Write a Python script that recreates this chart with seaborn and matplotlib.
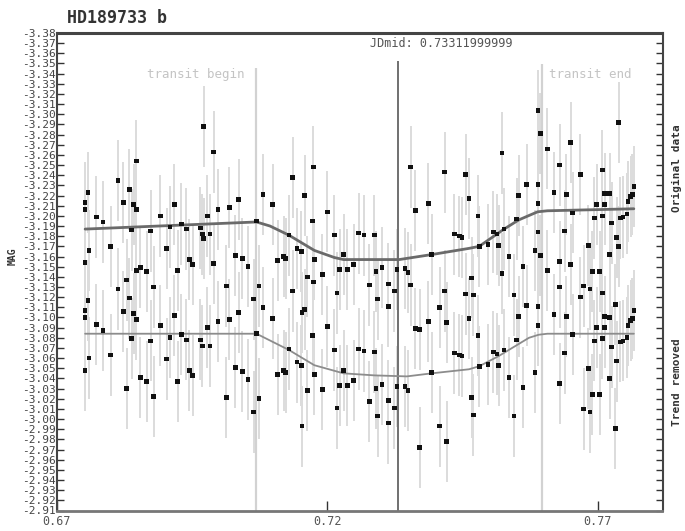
import numpy as np
import pandas as pd
import matplotlib
matplotlib.use('Agg')
import matplotlib.pyplot as plt
import seaborn as sns

TARGET = 'HD189733 b'
JD_MID = 0.73311999999
T_BEGIN = 0.7069
T_END = 0.7597
ERR = 0.04

jd = [0.6752, 0.6752, 0.6757, 0.6752, 0.6759, 0.6773, 0.6785, 0.6799, 0.6813, 0.6823,
      0.6829, 0.6834, 0.6838, 0.6842, 0.6847, 0.6847, 0.6854, 0.6866, 0.6873, 0.6879,
      0.6891, 0.6903, 0.6909, 0.6917, 0.6923, 0.6930, 0.6939, 0.6945, 0.6951, 0.6965,
      0.6971, 0.6969, 0.6978, 0.6983, 0.6990, 0.6998, 0.7013, 0.7019, 0.7030, 0.7036,
      0.7043, 0.7053, 0.7064, 0.7069, 0.7074, 0.7081, 0.7099, 0.7108, 0.7119, 0.7123,
      0.7129, 0.7136, 0.7144, 0.7152, 0.7153, 0.7158, 0.7163, 0.7173, 0.7174, 0.7176,
      0.7191, 0.7200, 0.7213, 0.7218, 0.7223, 0.7230, 0.7237, 0.7249, 0.7258, 0.7268,
      0.7278, 0.7287, 0.7290, 0.7293, 0.7301, 0.7313, 0.7313, 0.7324, 0.7329, 0.7344,
      0.7349, 0.7354, 0.7363, 0.7371, 0.7387, 0.7393, 0.7408, 0.7417, 0.7421, 0.7435,
      0.7444, 0.7449, 0.7456, 0.7462, 0.7467, 0.7470, 0.7479, 0.7481, 0.7497, 0.7507,
      0.7514, 0.7517, 0.7523, 0.7527, 0.7536, 0.7545, 0.7550, 0.7554, 0.7562, 0.7569,
      0.7584, 0.7590, 0.7590, 0.7590, 0.7594, 0.7607, 0.7619, 0.7630, 0.7630, 0.7639,
      0.7642, 0.7650, 0.7654, 0.7668, 0.7674, 0.7683, 0.7686, 0.7690, 0.7694, 0.7698,
      0.7704, 0.7709, 0.7709, 0.7713, 0.7713, 0.7722, 0.7722, 0.7726, 0.7733, 0.7735,
      0.7739, 0.7742, 0.7747, 0.7754, 0.7756, 0.7761, 0.7764, 0.7767]

mag_orig = [-3.213, -3.206, -3.223, -3.154, -3.166, -3.199, -3.194, -3.170, -3.235, -3.213,
            -3.137, -3.226, -3.186, -3.211, -3.206, -3.254, -3.149, -3.145, -3.185, -3.130,
            -3.200, -3.168, -3.189, -3.211, -3.146, -3.192, -3.187, -3.157, -3.152, -3.188,
            -3.288, -3.182, -3.200, -3.182, -3.263, -3.206, -3.131, -3.208, -3.161, -3.216,
            -3.158, -3.150, -3.118, -3.195, -3.131, -3.221, -3.211, -3.156, -3.160, -3.158,
            -3.181, -3.238, -3.168, -3.165, -3.105, -3.220, -3.140, -3.195, -3.248, -3.157,
            -3.142, -3.204, -3.181, -3.124, -3.147, -3.162, -3.147, -3.152, -3.183, -3.181,
            -3.132, -3.181, -3.145, -3.118, -3.149, -3.133, -3.111, -3.126, -3.147, -3.148,
            -3.144, -3.248, -3.205, -3.088, -3.212, -3.162, -3.110, -3.243, -3.095, -3.182,
            -3.180, -3.179, -3.241, -3.217, -3.139, -3.122, -3.200, -3.170, -3.172, -3.184,
            -3.182, -3.171, -3.262, -3.187, -3.160, -3.122, -3.197, -3.220, -3.150, -3.231,
            -3.166, -3.304, -3.231, -3.212, -3.281, -3.266, -3.223, -3.250, -3.155, -3.185,
            -3.221, -3.272, -3.203, -3.241, -3.131, -3.171, -3.128, -3.145, -3.198, -3.211,
            -3.145, -3.245, -3.200, -3.222, -3.211, -3.222, -3.162, -3.193, -3.113, -3.179,
            -3.292, -3.198, -3.199, -3.202, -3.214, -3.219, -3.221, -3.229]

mag_detr = [-3.107, -3.100, -3.117, -3.048, -3.060, -3.093, -3.087, -3.063, -3.128, -3.106,
            -3.030, -3.119, -3.079, -3.104, -3.098, -3.146, -3.041, -3.037, -3.077, -3.022,
            -3.092, -3.059, -3.080, -3.102, -3.037, -3.083, -3.078, -3.048, -3.043, -3.078,
            -3.178, -3.072, -3.090, -3.072, -3.153, -3.096, -3.021, -3.098, -3.051, -3.105,
            -3.047, -3.039, -3.007, -3.084, -3.020, -3.110, -3.099, -3.044, -3.048, -3.046,
            -3.069, -3.126, -3.056, -3.053, -2.993, -3.108, -3.028, -3.082, -3.135, -3.044,
            -3.029, -3.091, -3.068, -3.011, -3.033, -3.048, -3.033, -3.038, -3.069, -3.067,
            -3.017, -3.066, -3.030, -3.003, -3.034, -3.018, -2.996, -3.011, -3.032, -3.032,
            -3.028, -3.132, -3.089, -2.972, -3.096, -3.046, -2.993, -3.126, -2.978, -3.065,
            -3.063, -3.062, -3.123, -3.099, -3.021, -3.004, -3.082, -3.052, -3.054, -3.066,
            -3.064, -3.053, -3.143, -3.068, -3.041, -3.003, -3.078, -3.101, -3.031, -3.112,
            -3.046, -3.184, -3.111, -3.092, -3.161, -3.146, -3.103, -3.130, -3.035, -3.065,
            -3.101, -3.152, -3.083, -3.120, -3.010, -3.050, -3.007, -3.024, -3.077, -3.090,
            -3.024, -3.124, -3.079, -3.101, -3.090, -3.100, -3.040, -3.071, -2.991, -3.057,
            -3.170, -3.076, -3.077, -3.080, -3.092, -3.097, -3.099, -3.107]

# fitted transit model curves
model_jd = [0.6752, 0.7069, 0.7094, 0.7129, 0.7176, 0.7213, 0.7230, 0.7333,
            0.7394, 0.7462, 0.7481, 0.7527, 0.7554, 0.7589, 0.7607, 0.7767]
model_orig = [-3.187, -3.194, -3.190, -3.181, -3.166, -3.159, -3.157, -3.157,
              -3.162, -3.168, -3.170, -3.187, -3.196, -3.204, -3.205, -3.207]
model_jd_detr = [0.6752, 0.7069, 0.7129, 0.7176, 0.7230, 0.7287, 0.7347, 0.7393,
                 0.7462, 0.7481, 0.7517, 0.7573, 0.7591, 0.7607, 0.7767]
model_detr = [-3.084, -3.084, -3.068, -3.053, -3.045, -3.043, -3.042, -3.045,
              -3.049, -3.052, -3.062, -3.080, -3.083, -3.084, -3.084]

xtick_vals = [0.67, 0.72, 0.77]
ytick_vals = np.round(np.arange(-3.38, -2.905, 0.01), 2)

sns.set_style('white')
plt.rcParams['font.family'] = ['DejaVu Sans Mono', 'DejaVu Sans']
plt.rcParams['axes.unicode_minus'] = False

df = pd.DataFrame({'jd': jd * 2,
                   'mag': mag_orig + mag_detr,
                   'set': ['orig'] * len(jd) + ['detr'] * len(jd)})

fig = plt.figure(figsize=(6.85, 5.31), dpi=100)
ax = fig.add_axes([57 / 685, 20.5 / 531, 605.5 / 685, 477.5 / 531])

ax.errorbar(df.jd, df.mag, yerr=ERR, fmt='none', ecolor='#dcdcdc', elinewidth=1.4, zorder=1)

ax.vlines(T_BEGIN, -3.346, -2.91, color='#d2d2d2', lw=1.6, zorder=2)
ax.vlines(T_END, -3.349, -2.91, color='#d2d2d2', lw=1.6, zorder=2)
ax.vlines(JD_MID, -3.352, -2.91, color='#707070', lw=1.4, zorder=2)

sns.lineplot(x=model_jd, y=model_orig, color='#6a6a6a', lw=2.0, ax=ax, zorder=3)
sns.lineplot(x=model_jd_detr, y=model_detr, color='#8c8c8c', lw=1.3, ax=ax, zorder=3)

sns.scatterplot(data=df, x='jd', y='mag', marker='s', s=11, color='#111111',
                edgecolor='none', legend=False, ax=ax, zorder=4)

ax.set_xlim(0.67, 0.782)
ax.set_ylim(-2.91, -3.38)
ax.set_xticks(xtick_vals)
ax.set_xticklabels([f'{v:.2f}' for v in xtick_vals], fontsize=8.5, color='#555555')
ax.set_yticks(ytick_vals)
ax.set_yticklabels([f'{v:.2f}' for v in ytick_vals], fontsize=8, color='#444444')
ax.tick_params(axis='y', direction='in', length=5, width=1, color='#333333',
               left=True, right=True, pad=1)
ax.tick_params(axis='x', direction='in', length=7, width=1, color='#333333',
               bottom=True, top=False, pad=3)
ax.set_xlabel('')
ax.set_ylabel('')

for side, lw, c in [('top', 2.2, '#444444'), ('bottom', 2.0, '#777777'),
                    ('left', 1.5, '#444444'), ('right', 1.5, '#444444')]:
    ax.spines[side].set_linewidth(lw)
    ax.spines[side].set_color(c)

ax.text(0.6957, -3.339, 'transit begin', ha='center', va='center', fontsize=9, color='#c4c4c4')
ax.text(0.7686, -3.339, 'transit end', ha='center', va='center', fontsize=9, color='#c4c4c4')
ax.text(0.7410, -3.37, f'JDmid: {JD_MID}', ha='center', va='center', fontsize=8.5, color='#555555')

fig.text(117 / 685, 1 - 18 / 531, TARGET, ha='center', va='center', fontsize=12,
         fontweight='bold', color='#333333')
fig.text(13 / 685, 1 - 256 / 531, 'MAG', rotation=90, ha='center', va='center',
         fontsize=7, fontweight='bold', color='#333333')
fig.text(677 / 685, 1 - 168 / 531, 'Original data', rotation=90, ha='center', va='center',
         fontsize=8, fontweight='bold', color='#333333', family='DejaVu Sans Mono')
fig.text(677 / 685, 1 - 382 / 531, 'Trend removed', rotation=90, ha='center', va='center',
         fontsize=8, fontweight='bold', color='#333333', family='DejaVu Sans Mono')

fig.savefig('out.png', dpi=100, facecolor='white')
